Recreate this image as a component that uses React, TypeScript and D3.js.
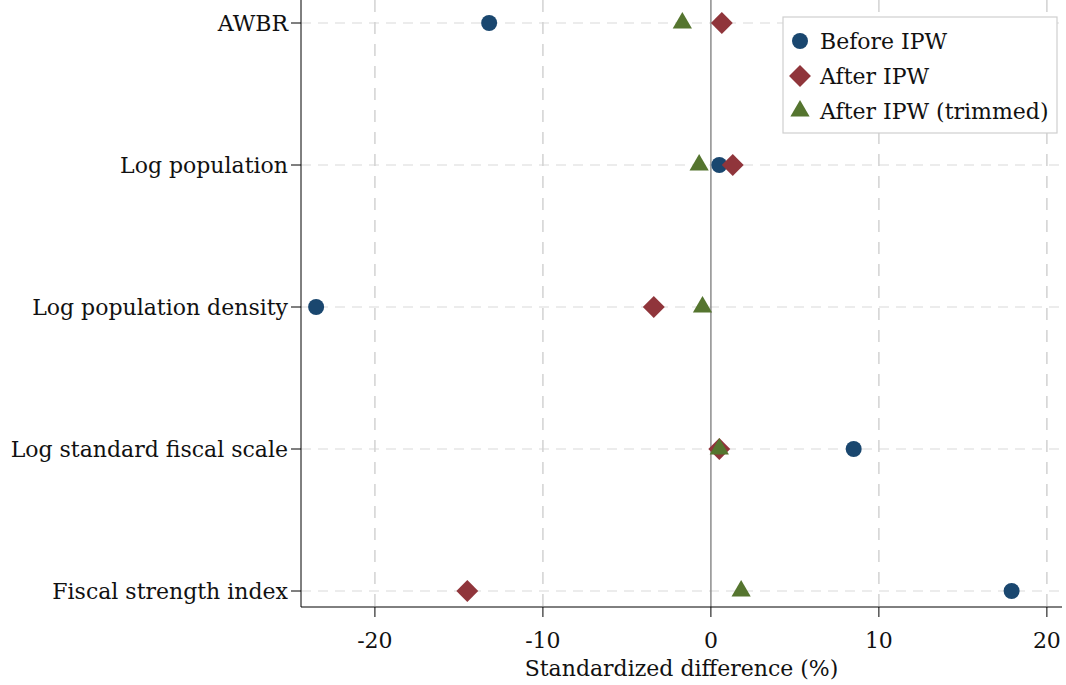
import React from "react";
import * as d3 from "d3";

const variables = [
  "AWBR",
  "Log population",
  "Log population density",
  "Log standard fiscal scale",
  "Fiscal strength index",
];
const beforeIPW = [-13.2, 0.5, -23.5, 8.5, 17.9];
const afterIPW = [0.65, 1.3, -3.4, 0.5, -14.5];
const afterTrimmed = [-1.7, -0.7, -0.5, 0.5, 1.8];
const xTicks = [-20, -10, 0, 10, 20];
const seriesNames = ["Before IPW", "After IPW", "After IPW (trimmed)"];

const W = 1066;
const H = 685;
const left = 301;
const right = 1062;
const bottom = 607;
const font = "DejaVu Serif, Georgia, serif";
const fs = 22;
const colors = ["#1a476f", "#90353b", "#55752f"];

export default function App() {
  const x = d3.scaleLinear().domain([-24.4, 20.9]).range([left, right]);
  const y = d3.scalePoint<string>().domain(variables).range([23, 591]);
  const series = [beforeIPW, afterIPW, afterTrimmed];
  const path = (i: number) => {
    if (i === 0) return d3.symbol().type(d3.symbolCircle).size(201)()!;
    if (i === 1) return d3.symbol().type(d3.symbolSquare).size(240)()!;
    return d3.symbol().type(d3.symbolTriangle).size(160)()!;
  };
  const rot = (i: number) => (i === 1 ? " rotate(45)" : "");

  return (
    <svg width={W} height={H} style={{ position: "absolute", left: 0, top: 0, background: "#fff" }}>
      {variables.map((v) => (
        <line key={v} x1={left} x2={right} y1={y(v)} y2={y(v)} stroke="#e6e6e6" strokeWidth={1.5} strokeDasharray="10,7" />
      ))}
      {xTicks.filter((t) => t !== 0).map((t) => (
        <line key={t} x1={x(t)} x2={x(t)} y1={0} y2={bottom} stroke="#d2d2d2" strokeWidth={1.5} strokeDasharray="12,10" />
      ))}
      <line x1={x(0)} x2={x(0)} y1={0} y2={bottom} stroke="#8c8c8c" strokeWidth={1.5} />
      <line x1={left} x2={left} y1={0} y2={bottom} stroke="#000" strokeWidth={1} />
      <line x1={left} x2={right} y1={bottom} y2={bottom} stroke="#000" strokeWidth={1} />
      {variables.map((v) => (
        <g key={v}>
          <line x1={left - 10} x2={left} y1={y(v)} y2={y(v)} stroke="#000" />
          <text x={left - 13} y={y(v)} dy="0.35em" textAnchor="end" fontFamily={font} fontSize={fs} fill="#111">
            {v}
          </text>
        </g>
      ))}
      {xTicks.map((t) => (
        <g key={t}>
          <line x1={x(t)} x2={x(t)} y1={bottom} y2={bottom + 10} stroke="#000" />
          <text x={x(t)} y={bottom + 41} textAnchor="middle" fontFamily={font} fontSize={fs} fill="#111">
            {t}
          </text>
        </g>
      ))}
      <text x={(left + right) / 2} y={676} textAnchor="middle" fontFamily={font} fontSize={fs} fill="#111">
        Standardized difference (%)
      </text>
      {series.map((s, i) => (
        <g key={i}>
          {s.map((val, j) => (
            <path key={j} d={path(i)} transform={`translate(${x(val)},${y(variables[j])})${rot(i)}`} fill={colors[i]} />
          ))}
        </g>
      ))}
      <rect x={783} y={17} width={274} height={116} fill="#fff" stroke="#cfcfcf" strokeWidth={1.2} />
      {seriesNames.map((n, i) => (
        <g key={n}>
          <path d={path(i)} transform={`translate(800,${41 + i * 35})${rot(i)}`} fill={colors[i]} />
          <text x={820} y={41 + i * 35} dy="0.35em" fontFamily={font} fontSize={fs} fill="#111">
            {n}
          </text>
        </g>
      ))}
    </svg>
  );
}
